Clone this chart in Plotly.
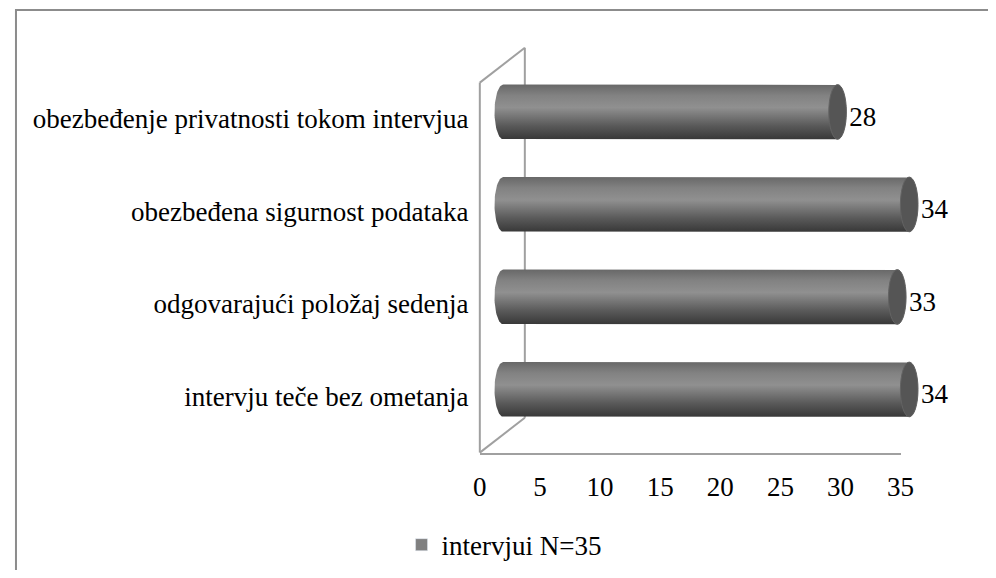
import numpy as np
import plotly.graph_objects as go

# ---- data ----
categories = ["intervju teče bez ometanja", "odgovarajući položaj sedenja",
              "obezbeđena sigurnost podataka", "obezbeđenje privatnosti tokom intervjua"]
values = [34, 33, 34, 28]
series_name = "intervjui N=35"
x_ticks = [0, 5, 10, 15, 20, 25, 30, 35]

# ---- geometry helpers (window pixels -> paper); page body has an 8px margin ----
OFF = 8
W, H = 996 - 2 * OFF, 578 - 2 * OFF
def px(x):
    return (x - OFF) / W
def py(y):
    return (H - (y - OFF)) / H

FONT = "Liberation Serif, Times New Roman, serif"
FS = 27
GRAY_LINE = "#a0a0a0"

# bar axis: 0 at 507px, 12.2 px/unit ; categories spaced 93px
bx0, bscale = 507, 12.2
ax_left = 483
xr = [-(bx0 - ax_left) / bscale, (W + OFF - bx0) / bscale]
cat_top_px, cat_bot_px = 112.5 - 46.5, 391.5 + 46.5
rx = 9 / bscale          # ellipse half-width in data units
ry = 27.5 / 93           # half bar thickness in category units

fig = go.Figure()

cscale = [[0, "#383838"], [0.25, "#5a5a5a"], [0.58, "#909090"], [0.8, "#828282"], [1, "#686868"]]

shapes = []
for i, (c, v) in enumerate(zip(categories, values)):
    yc = i
    t_r = np.linspace(np.pi / 2, -np.pi / 2, 40)
    t_l = np.linspace(-np.pi / 2, -3 * np.pi / 2, 40)
    xs = [0, v] + list(v + rx * np.cos(t_r)) + [v, 0] + list(0 + rx * np.cos(t_l))
    ys = [yc + ry, yc + ry] + list(yc + ry * np.sin(t_r)) + [yc - ry, yc - ry] + list(yc + ry * np.sin(t_l))
    fig.add_trace(go.Scatter(
        x=xs, y=ys, mode="lines", fill="toself", line=dict(width=0),
        fillgradient=dict(type="vertical", colorscale=cscale),
        showlegend=False, hoverinfo="skip", xaxis="x", yaxis="y"))
    shapes.append(dict(type="circle", xref="x", yref="y",
                       x0=v - rx, x1=v + rx, y0=yc - ry, y1=yc + ry,
                       fillcolor="#555555", line=dict(color="#636363", width=1), layer="above"))

# value labels
fig.add_trace(go.Scatter(
    x=[v + rx + 3 / bscale for v in values], y=[i - 0.075 for i in range(len(values))],
    text=[str(v) for v in values], mode="text", textposition="middle right",
    textfont=dict(family=FONT, size=FS, color="#000000"),
    showlegend=False, hoverinfo="skip", xaxis="x", yaxis="y", cliponaxis=False))

# legend entry
fig.add_trace(go.Bar(x=[None], y=[None], orientation="h", name=series_name,
                     marker=dict(color="#808080"), xaxis="x2", yaxis="y2", showlegend=True))

# wall (3D frame) lines
wall = [((483, 83), (483, 455)), ((483, 83), (529, 48)),
        ((529, 48), (529, 420)), ((483, 455), (529, 420))]
for (a, b) in wall:
    shapes.append(dict(type="line", xref="paper", yref="paper",
                       x0=px(a[0]), y0=py(a[1]), x1=px(b[0]), y1=py(b[1]),
                       line=dict(color=GRAY_LINE, width=2), layer="below"))

# outer chart border
shapes.append(dict(type="rect", xref="paper", yref="paper",
                   x0=px(9), y0=py(640), x1=px(1060), y1=py(10),
                   line=dict(color="#8c8c8c", width=2), fillcolor="rgba(0,0,0,0)", layer="below"))

fig.update_layout(
    width=W, height=H,
    margin=dict(l=0, r=0, t=0, b=0, pad=0),
    paper_bgcolor="white", plot_bgcolor="rgba(0,0,0,0)",
    font=dict(family=FONT, size=FS, color="#000000"),
    shapes=shapes,
    showlegend=True,
    legend=dict(orientation="h", x=px(403), xanchor="left", y=py(548), yanchor="middle",
                font=dict(family=FONT, size=FS, color="#000000"), bgcolor="rgba(0,0,0,0)"),
    xaxis=dict(domain=[px(ax_left), 1.0], range=xr, visible=False, fixedrange=True),
    yaxis=dict(domain=[py(cat_bot_px), py(cat_top_px)], range=[-0.5, 3.5],
               anchor="x", tickmode="array",
               tickvals=[i - 0.075 for i in range(len(categories))], ticktext=categories,
               ticks="outside", ticklen=5, tickcolor="rgba(0,0,0,0)",
               showgrid=False, zeroline=False, showline=False, fixedrange=True),
    xaxis2=dict(domain=[px(483), px(913)], range=[0, 35], anchor="y2",
                tickmode="array", tickvals=x_ticks, ticktext=[str(t) for t in x_ticks],
                showline=True, linecolor=GRAY_LINE, linewidth=2,
                ticks="outside", ticklen=9, tickcolor="rgba(0,0,0,0)",
                showgrid=False, zeroline=False, fixedrange=True),
    yaxis2=dict(domain=[py(455), py(455) + 0.05], anchor="x2", visible=False, fixedrange=True),
)

fig.write_html("out.html")
